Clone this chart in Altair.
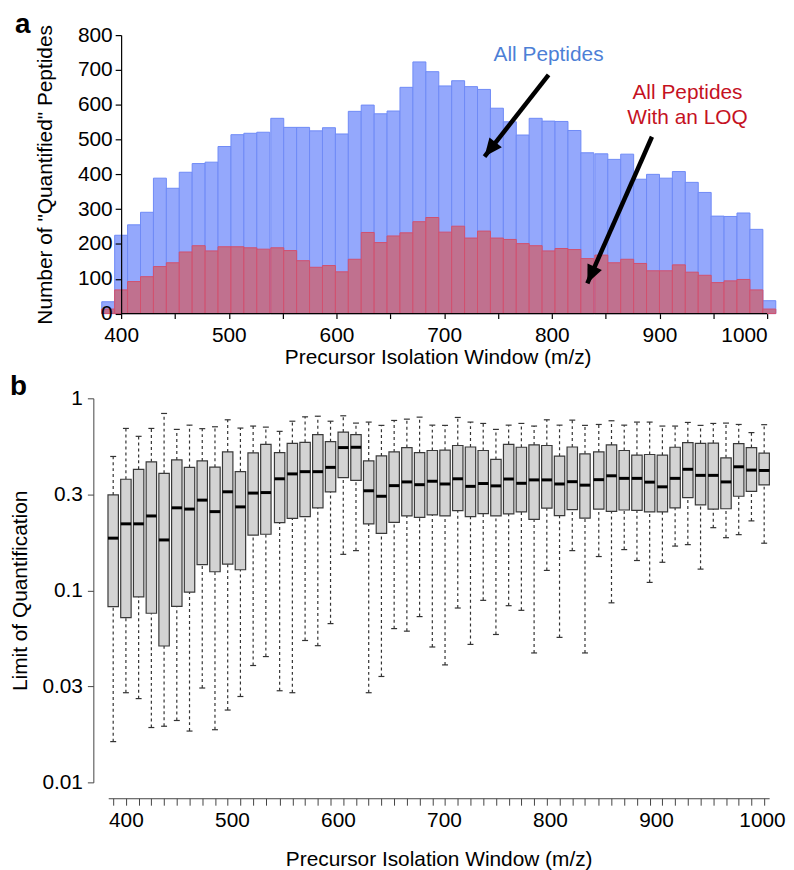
import altair as alt
import pandas as pd

# ---------------- data ----------------
# centre of each precursor isolation window (m/z)
centers = [388, 400, 412, 424, 436, 448, 460, 472, 484, 496, 508, 520, 532, 545,
           557, 569, 581, 593, 605, 617, 629, 641, 653, 665, 677, 689, 701, 713,
           725, 737, 749, 761, 773, 785, 797, 809, 821, 833, 846, 858, 870, 882,
           894, 906, 918, 930, 942, 954, 966, 978, 990, 1002]

# panel a: number of "quantified" peptides per window
all_peptides = [34, 225, 255, 291, 389, 360, 406, 431, 435, 480, 514, 518, 521, 561,
                535, 535, 525, 534, 516, 581, 599, 574, 582, 650, 723, 695, 654, 669,
                652, 644, 590, 551, 513, 561, 553, 552, 526, 462, 459, 443, 458, 386,
                400, 389, 408, 377, 348, 280, 279, 289, 242, 37]
loq_peptides = [13, 68, 92, 106, 135, 146, 177, 195, 180, 192, 192, 189, 185, 189,
                181, 152, 133, 138, 120, 156, 233, 204, 223, 232, 264, 276, 234, 251,
                217, 237, 217, 213, 201, 195, 180, 187, 184, 158, 168, 146, 156, 144,
                123, 123, 140, 119, 110, 89, 94, 98, 68, 13]

# panel b: limit of quantification distribution per window
whisk_hi = [.498, .697, .634, .697, .834, .689, .725, .695, .711, .773,
            .700, .717, .708, .673, .760, .801, .807, .760, .811, .743,
            .752, .723, .767, .779, .798, .725, .723, .795, .752, .740,
            .689, .725, .740, .717, .773, .725, .770, .723, .731, .764,
            .725, .752, .752, .717, .717, .749, .723, .740, .743, .731, .663, .729]
q3 = [.314, .379, .427, .467, .407, .478, .437, .472, .438, .526,
      .415, .520, .576, .522, .583, .590, .647, .595, .667, .647,
      .472, .501, .526, .554, .522, .535, .537, .568, .558, .535,
      .481, .576, .556, .572, .568, .500, .558, .514, .526, .572,
      .535, .506, .510, .506, .556, .588, .583, .585, .490, .581, .554, .518]
median = [.187, .222, .222, .244, .183, .269, .265, .295, .257, .326,
          .272, .321, .323, .381, .404, .415, .415, .437, .554, .556,
          .330, .309, .351, .367, .355, .370, .358, .381, .348, .360,
          .350, .380, .361, .376, .376, .358, .368, .353, .377, .395,
          .383, .383, .366, .346, .383, .427, .397, .397, .367, .440, .423, .421]
q1 = [.0822, .0721, .0925, .0760, .0513, .0826, .0979, .136, .125, .137,
      .128, .194, .196, .225, .237, .242, .269, .326, .386, .374,
      .222, .198, .226, .244, .240, .247, .244, .260, .242, .251,
      .244, .250, .256, .234, .268, .245, .263, .238, .265, .258,
      .262, .261, .256, .256, .269, .304, .279, .265, .266, .309, .328, .354]
whisk_lo = [.0163, .0293, .0273, .0193, .0196, .0210, .0185, .0310, .0188, .0238,
            .0280, .0406, .0452, .0300, .0293, .0548, .0515, .0671, .154, .161,
            .0293, .0356, .0632, .0613, .0730, .0507, .0409, .0809, .0523, .0887,
            .0589, .0832, .0787, .0472, .127, .0569, .161, .0472, .150, .0861,
            .163, .143, .110, .140, .170, .173, .129, .212, .188, .195, .230, .176]

# annotation arrows (data coordinates of panel a)
arrow_tail_x = [797, 893]
arrow_tail_y = [686, 508]
arrow_tip_x = [737.5, 833]
arrow_tip_y = [451, 87]
arrow_angle = [218, 204]

label_x = [797, 926, 926]
label_y = [742, 634, 562]
label_text = ["All Peptides", "All Peptides", "With an LOQ"]
label_group = ["all", "loq", "loq"]

a_ticks = [400, 450, 500, 550, 600, 650, 700, 750, 800, 850, 900, 950, 1000]
a_yticks = [0, 100, 200, 300, 400, 500, 600, 700, 800]
b_labels = [400, 500, 600, 700, 800, 900, 1000]
b_yticks = [1, 0.316228, 0.1, 0.0316228, 0.01]

hist = pd.DataFrame({"c": centers, "all": all_peptides, "loq": loq_peptides})
box = pd.DataFrame({"c": centers, "lw": whisk_lo, "q1": q1, "med": median,
                    "q3": q3, "uw": whisk_hi})
arrows = pd.DataFrame({"x": arrow_tail_x, "y": arrow_tail_y, "tx": arrow_tip_x,
                       "ty": arrow_tip_y, "ang": arrow_angle})
labels = pd.DataFrame({"x": label_x, "y": label_y, "t": label_text, "g": label_group})
baseline = pd.DataFrame({"x": [400], "x2": [1000], "y": [0]})

FONT = "Liberation Sans"
TICK_FS = 21
TITLE_FS = 21

# ---------------- panel a ----------------
xs_a = alt.Scale(domain=[388, 1000], nice=False, zero=False)
ys_a = alt.Scale(domain=[0, 800], nice=False)

x_axis_a = alt.Axis(values=a_ticks, format="d",
                    labelExpr="datum.value % 100 == 0 ? datum.label : ''",
                    domain=False, tickSize=5, tickColor="black", tickWidth=1.2,
                    labelFont=FONT, labelFontSize=TICK_FS, labelColor="black",
                    labelPadding=6, labelOverlap=False, grid=False,
                    title="Precursor Isolation Window (m/z)", titleFont=FONT,
                    titleFontSize=TITLE_FS, titleFontWeight="normal",
                    titleColor="black", titlePadding=1)
y_axis_a = alt.Axis(values=a_yticks, offset=-13, tickSize=6, tickColor="black",
                    tickWidth=1.2, domainColor="black", domainWidth=1.2,
                    labelFont=FONT, labelFontSize=TICK_FS, labelColor="black",
                    labelPadding=3, labelOverlap=False, labelBound=False,
                    grid=False, zindex=2,
                    title='Number of "Quantified" Peptides', titleFont=FONT,
                    titleFontSize=TITLE_FS, titleFontWeight="normal",
                    titleColor="black", titlePadding=22)

base_a = alt.Chart(hist).transform_calculate(lo="datum.c - 6.02", hi="datum.c + 6.02")
blue = base_a.mark_rect(fill="#94a8fc", stroke="#6f8af6", strokeWidth=1).encode(
    x=alt.X("lo:Q", scale=xs_a, axis=x_axis_a),
    x2="hi:Q",
    y=alt.Y("all:Q", scale=ys_a, axis=y_axis_a),
    y2=alt.datum(0),
)
red = base_a.mark_rect(fill="#c0718f", stroke="#d2506e", strokeWidth=1).encode(
    x=alt.X("lo:Q", axis=x_axis_a), x2="hi:Q",
    y=alt.Y("loq:Q", axis=y_axis_a), y2=alt.datum(0)
)
axis_line = alt.Chart(baseline).mark_rule(color="black", strokeWidth=1.2).encode(
    x=alt.X("x:Q", axis=x_axis_a), x2="x2:Q", y=alt.Y("y:Q", axis=y_axis_a)
)
shafts = alt.Chart(arrows).mark_rule(color="black", strokeWidth=4.5).encode(
    x=alt.X("x:Q", axis=x_axis_a), y=alt.Y("y:Q", axis=y_axis_a), x2="tx:Q", y2="ty:Q"
)
heads = alt.Chart(arrows).mark_point(
    shape="M0,0L-0.5,1.15L0.5,1.15Z", filled=True, fill="black", opacity=1,
    size=1000, strokeWidth=0
).encode(x=alt.X("tx:Q", axis=x_axis_a), y=alt.Y("ty:Q", axis=y_axis_a),
         angle=alt.Angle("ang:Q", scale=None))
texts = alt.Chart(labels).mark_text(font=FONT, fontSize=21, baseline="middle",
                                    align="center").encode(
    x=alt.X("x:Q", axis=x_axis_a), y=alt.Y("y:Q", axis=y_axis_a), text="t:N",
    color=alt.Color("g:N", scale=alt.Scale(domain=["all", "loq"],
                                           range=["#4d7fd6", "#c5121f"]),
                    legend=None),
)

panel_a = alt.layer(blue, red, axis_line, shafts, heads, texts).properties(
    width=664, height=280.6,
    title=alt.TitleParams("a", anchor="start", frame="bounds", font=FONT,
                          fontSize=28, fontWeight="bold", color="black",
                          dx=-20, offset=-15),
)

# ---------------- panel b ----------------
xs_b = alt.Scale(domain=[388, 1002], nice=False, zero=False)
ys_b = alt.Scale(type="log", domain=[0.01, 1], nice=False)

tick_axis = alt.Axis(values=centers, labels=False, title=None, tickSize=7,
                     offset=16, orient="bottom", domainColor="#444444",
                     tickColor="#444444", domainWidth=1, tickWidth=1, grid=False)
label_axis = alt.Axis(values=b_labels, format="d", ticks=False, domain=False,
                      offset=16, orient="bottom", labelFont=FONT,
                      labelFontSize=TICK_FS, labelColor="black", labelPadding=11,
                      labelOverlap=False, grid=False,
                      title="Precursor Isolation Window (m/z)", titleFont=FONT,
                      titleFontSize=TITLE_FS, titleFontWeight="normal",
                      titleColor="black", titlePadding=19)
y_axis_b = alt.Axis(values=b_yticks,
                    labelExpr="datum.value > 0.5 ? '1' : datum.value > 0.2 ? '0.3' : datum.value > 0.05 ? '0.1' : datum.value > 0.02 ? '0.03' : '0.01'",
                    offset=15, tickSize=6, tickColor="#444444", domainColor="#444444",
                    labelFont=FONT, labelFontSize=TICK_FS, labelColor="black",
                    labelPadding=5, labelOverlap=False, grid=False,
                    title="Limit of Quantification", titleFont=FONT,
                    titleFontSize=TITLE_FS, titleFontWeight="normal",
                    titleColor="black", titlePadding=11)

base_b = alt.Chart(box)
upper = base_b.mark_rule(color="#333333", strokeWidth=1.2, strokeDash=[3, 3]).encode(
    x=alt.X("c:Q", scale=xs_b, axis=None),
    y=alt.Y("q3:Q", scale=ys_b, axis=y_axis_b), y2="uw:Q"
)
lower = base_b.mark_rule(color="#333333", strokeWidth=1.2, strokeDash=[3, 3]).encode(
    x=alt.X("c:Q", axis=None), y=alt.Y("lw:Q", axis=y_axis_b), y2="q1:Q"
)
cap_hi = base_b.mark_tick(orient="horizontal", size=6, thickness=1.2,
                          color="#333333", opacity=1).encode(
    x=alt.X("c:Q", axis=None), y=alt.Y("uw:Q", axis=y_axis_b))
cap_lo = base_b.mark_tick(orient="horizontal", size=6, thickness=1.2,
                          color="#333333", opacity=1).encode(
    x=alt.X("c:Q", axis=None), y=alt.Y("lw:Q", axis=y_axis_b))
boxes = base_b.mark_bar(size=10.5, fill="#d3d3d3", stroke="#3a3a3a",
                        strokeWidth=1.2).encode(
    x=alt.X("c:Q", axis=tick_axis), y=alt.Y("q1:Q", axis=y_axis_b), y2="q3:Q"
)
medians = base_b.mark_tick(orient="horizontal", size=10.5, thickness=3,
                           color="black", opacity=1).encode(
    x=alt.X("c:Q", axis=label_axis), y=alt.Y("med:Q", axis=y_axis_b)
)

panel_b = alt.layer(upper, lower, cap_hi, cap_lo, boxes, medians).resolve_axis(
    x="independent"
).properties(
    width=666, height=387,
    title=alt.TitleParams("b", anchor="start", frame="bounds", font=FONT,
                          fontSize=28, fontWeight="bold", color="black",
                          dx=0, offset=-14),
)

chart = alt.vconcat(panel_a, panel_b, spacing=6).properties(
    padding={"left": 2, "top": 0, "right": 0, "bottom": 0},
    background="white",
).configure_view(stroke=None)

chart.save("out.html", embed_options={"renderer": "svg", "actions": False})
